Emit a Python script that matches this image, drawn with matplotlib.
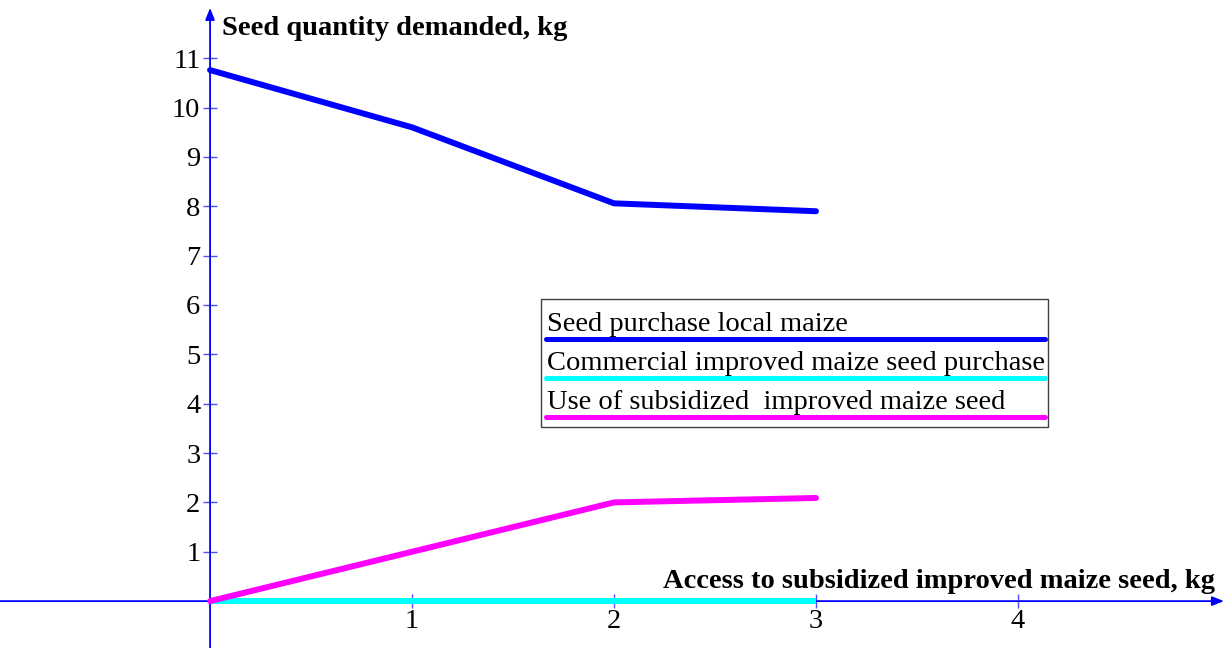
import matplotlib
matplotlib.use("Agg")
import matplotlib.pyplot as plt
from matplotlib.patches import Rectangle
from matplotlib.lines import Line2D

# Data
access_kg = [0, 1, 2, 3]
local_maize = [10.76, 9.6, 8.06, 7.90]
commercial_improved = [0, 0, 0, 0]
subsidized_improved = [0, 1.0, 2.0, 2.09]
series_labels = ["Seed purchase local maize",
                 "Commercial improved maize seed purchase",
                 "Use of subsidized  improved maize seed"]
series_colors = ["#0000ff", "#00ffff", "#ff00ff"]
x_ticks = [1, 2, 3, 4]
y_ticks = list(range(1, 12))
y_title = "Seed quantity demanded, kg"
x_title = "Access to subsidized improved maize seed, kg"

plt.rcParams['font.family'] = ['Liberation Serif', 'DejaVu Serif']

FS = 20.5

fig = plt.figure(figsize=(12.28, 6.48), dpi=100)
ax = fig.add_axes([0, 0, 1, 1])
ax.set_xlim(-1.04, 5.04)
ax.set_ylim(-0.95, 12.18)

for s in ['top', 'right']:
    ax.spines[s].set_visible(False)
ax.spines['left'].set_position(('data', 0))
ax.spines['bottom'].set_position(('data', 0))
ax.spines['left'].set_visible(False)
ax.spines['bottom'].set_visible(False)

# Axes with arrows
ax.annotate('', xy=(5.02, 0), xytext=(-1.04, 0),
            arrowprops=dict(arrowstyle='-|>,head_length=0.7,head_width=0.28',
                            color='#0000ff', lw=1.3, shrinkA=0, shrinkB=0))
ax.annotate('', xy=(0, 12.02), xytext=(0, -0.95),
            arrowprops=dict(arrowstyle='-|>,head_length=0.7,head_width=0.28',
                            color='#0000ff', lw=1.3, shrinkA=0, shrinkB=0))

ax.set_xticks(x_ticks)
ax.set_yticks(y_ticks)
ax.set_xticklabels([str(t) for t in x_ticks])
ax.set_yticklabels([str(t) for t in y_ticks])
ax.tick_params(axis='both', direction='inout', length=10, width=1,
               color='#5050ff', labelsize=FS, labelcolor='black')
ax.tick_params(axis='x', pad=1)
ax.tick_params(axis='y', pad=2)

lw = 4.3
ax.plot(access_kg, commercial_improved, color=series_colors[1], lw=lw,
        solid_capstyle='butt', zorder=3)
ax.plot(access_kg, local_maize, color=series_colors[0], lw=lw,
        solid_capstyle='round', zorder=4)
ax.plot(access_kg, subsidized_improved, color=series_colors[2], lw=lw,
        solid_capstyle='round', zorder=4)

# Axis titles
ax.text(222/1228, 1 - 35/648, y_title, transform=ax.transAxes,
        fontsize=FS, fontweight='bold', ha='left', va='baseline')
ax.text(1215/1228, 1 - 588/648, x_title, transform=ax.transAxes,
        fontsize=FS, fontweight='bold', ha='right', va='baseline')

# Custom legend box
W, H = 1228.0, 648.0
bx0, by0, bx1, by1 = 541, 299, 1048, 427
ax.add_patch(Rectangle((bx0 / W, 1 - by1 / H), (bx1 - bx0) / W, (by1 - by0) / H,
                       transform=ax.transAxes, fill=True, facecolor='white',
                       edgecolor='#404040', lw=1.0, zorder=5))
text_base = [331, 370, 409]
line_y = [339, 378, 417]
for lab, col, tb, ly in zip(series_labels, series_colors, text_base, line_y):
    ax.text(547 / W, 1 - tb / H, lab, transform=ax.transAxes, fontsize=FS,
            ha='left', va='baseline', zorder=6)
    ax.add_line(Line2D([546 / W, 1045 / W], [1 - ly / H, 1 - ly / H],
                       transform=ax.transAxes, color=col, lw=3.6,
                       solid_capstyle='round', zorder=6))

fig.savefig("out.png", dpi=100)
